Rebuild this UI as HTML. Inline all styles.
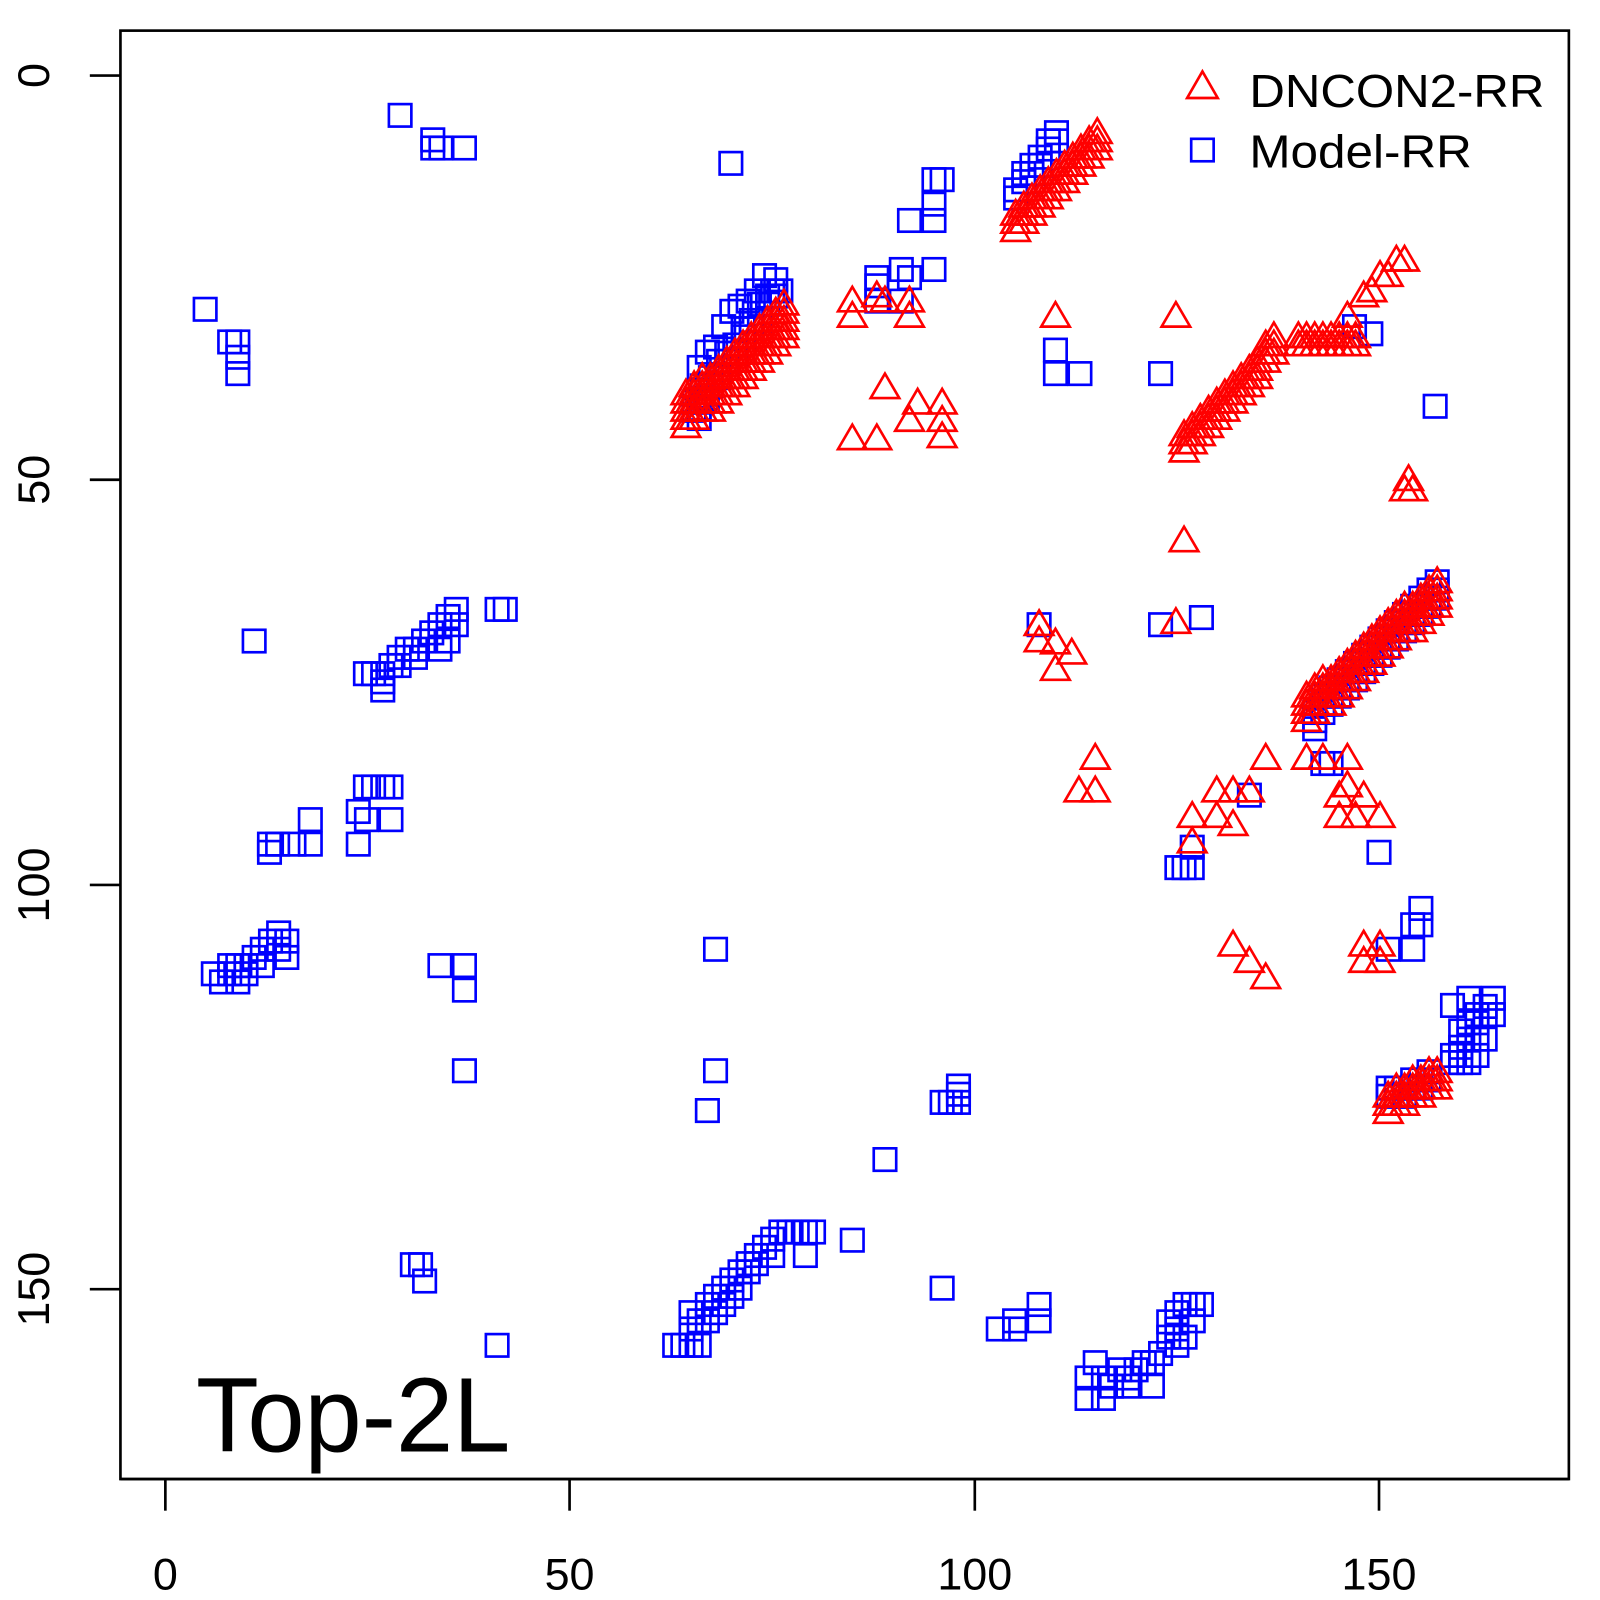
<!DOCTYPE html>
<html><head><meta charset="utf-8"><style>
html,body{margin:0;padding:0;background:#fff}
svg{display:block}
text{font-family:"Liberation Sans",Arial,sans-serif;fill:#000}
</style></head><body>
<svg id="s" width="1600" height="1600" viewBox="0 0 1567.5 1567.5" xmlns="http://www.w3.org/2000/svg">
<rect x="0" y="0" width="1567.5" height="1567.5" fill="#fff"/>
<g id="blue" fill="none" stroke="#0000ff" stroke-width="2.6"></g>
<g id="red" fill="none" stroke="#ff0000" stroke-width="2.6"></g>
<rect x="118" y="30" width="1419" height="1419" fill="none" stroke="#000" stroke-width="2.6"/>
<g stroke="#000" stroke-width="2.6">
<line x1="118" y1="1449" x2="1537" y2="1449"/>
<line x1="162" y1="1449" x2="162" y2="1480"/><line x1="558" y1="1449" x2="558" y2="1480"/>
<line x1="955" y1="1449" x2="955" y2="1480"/><line x1="1351" y1="1449" x2="1351" y2="1480"/>
<line x1="118" y1="74" x2="88" y2="74"/><line x1="118" y1="470" x2="88" y2="470"/>
<line x1="118" y1="867" x2="88" y2="867"/><line x1="118" y1="1263" x2="88" y2="1263"/>
</g>
<g font-size="44" text-anchor="middle">
<text x="162" y="1557">0</text><text x="558" y="1557">50</text>
<text x="955" y="1557">100</text><text x="1351" y="1557">150</text>
<text transform="translate(48,74) rotate(-90)">0</text>
<text transform="translate(48,470) rotate(-90)">50</text>
<text transform="translate(48,867) rotate(-90)">100</text>
<text transform="translate(48,1263) rotate(-90)">150</text>
</g>
<text x="192" y="1422" font-size="104" textLength="308" lengthAdjust="spacingAndGlyphs">Top-2L</text>
<polygon points="1178,70 1163,96 1193,96" fill="none" stroke="#ff0000" stroke-width="2.6"/>
<rect x="1167" y="136" width="22" height="22" fill="none" stroke="#0000ff" stroke-width="2.6"/>
<text x="1224" y="105" font-size="45" textLength="289" lengthAdjust="spacingAndGlyphs">DNCON2-RR</text>
<text x="1224" y="164" font-size="45" textLength="218" lengthAdjust="spacingAndGlyphs">Model-RR</text>
</svg>
<script>
var B=[[392,113],[424,137],[424,145],[432,145],[455,145],[716,160],[201,303],[225,335],[233,335],[233,350],[233,366],[249,628],
[358,660],[366,660],[375,676],[375,660],[383,652],[391,644],[399,636],[407,636],[415,628],[423,620],[431,612],[439,604],[447,597],[447,612],[439,628],[431,636],[407,644],[391,652],[375,668],[487,597],[495,597],
[358,771],[366,771],[375,771],[383,771],[351,795],[359,803],[383,803],[351,827],[304,803],[304,827],[288,827],[264,827],[264,835],[272,827],
[209,954],[217,962],[225,954],[233,962],[233,946],[241,954],[249,938],[257,930],[265,922],[273,914],[281,922],[281,938],[257,946],[241,946],[225,946],[273,930],
[431,946],[455,946],[455,970],[455,1049],[701,930],[701,1049],[693,1088],[939,1064],[939,1072],[931,1080],[923,1080],[939,1080],[867,1136],
[412,1239],[416,1255],[404,1239],[487,1318],
[661,1318],[669,1318],[677,1318],[685,1318],[677,1302],[685,1294],[677,1286],[693,1294],[693,1278],[701,1270],[709,1262],[717,1254],[725,1246],[733,1238],[741,1230],[749,1222],[757,1214],[765,1207],[773,1207],[781,1207],[789,1207],[797,1207],[789,1230],[757,1230],[741,1238],[725,1262],[709,1278],[701,1286],[717,1270],[733,1246],
[835,1215],[923,1262],[978,1302],[994,1294],[994,1302],[1018,1278],[1018,1294],
[1073,1335],[1065,1350],[1065,1370],[1081,1350],[1081,1370],[1089,1358],[1097,1342],[1105,1350],[1105,1358],[1113,1342],[1121,1335],[1129,1335],[1129,1358],[1137,1326],
[1145,1295],[1153,1286],[1161,1278],[1169,1278],[1177,1278],[1153,1302],[1161,1310],[1169,1294],[1145,1310],[1153,1318],
[891,216],[915,176],[923,176],[915,200],[915,216],[859,272],[859,280],[859,295],[883,264],[891,272],[915,264],[883,295],
[1034,343],[1034,366],[1058,366],[1137,366],
[685,360],[693,345],[701,340],[709,320],[717,305],[725,300],[733,295],[741,285],[749,270],[757,285],[765,285],[685,400],[685,410],[693,390],
[1018,612],[1137,612],[1177,605],[1304,748],[1296,748],[1224,779],[1168,830],[1153,850],[1160,850],[1168,850],[1351,835],
[1327,320],[1343,327],[1406,398],[1360,930],[1384,930],[1384,906],[1392,890],[1392,906],
[1423,1034],[1431,1026],[1439,1018],[1447,1002],[1455,994],[1463,978],[1463,994],[1447,1018],[1439,1041],[1431,1041],[1423,985],[1439,978],[1455,1018],[1447,994],[1431,1010],[1423,1041],[1447,1034],[1439,1002],[1455,986],[1431,1034]];
var R=[[835,295],[835,310],[867,295],[859,290],[891,295],[891,310],[867,380],[835,430],[859,430],[899,395],[891,412],[923,395],[923,412],[923,428],
[1034,310],[1152,310],[1320,310],[1336,290],[1352,270],[1368,255],[1376,255],[1344,285],[1360,270],
[1376,480],[1384,480],[1380,470],[1160,530],[1152,610],[1018,612],[1018,628],[1034,630],[1050,640],[1034,656],
[1073,743],[1057,775],[1073,775],[1280,743],[1296,743],[1320,743],[1240,743],[1320,770],[1336,780],[1312,800],[1328,800],[1352,800],[1312,780],
[1192,775],[1208,775],[1224,775],[1168,800],[1192,800],[1208,808],[1168,825],[1208,926],[1224,942],[1240,958],[1336,926],[1352,926],[1336,942],[1352,942]];
for(var x=1272;x<=1328;x+=8){R.push([x,330]);R.push([x,338]);}
function diag(arr,x1,y1,x2,y2,offs){for(var x=x1;x<=x2;x+=8){var y=y1+(y2-y1)*(x-x1)/(x2-x1);for(var i=0;i<offs.length;i++)arr.push([x,Math.round((y+offs[i])/8)*8+2]);}}
diag(B,680,400,760,285,[0,-10]);diag(B,995,190,1042,125,[0,-8]);diag(B,1288,700,1408,575,[0,-8,8]);diag(B,1360,1075,1400,1058,[0,-8]);
diag(R,672,395,772,300,[-8,0,8,16,24]);diag(R,995,218,1080,130,[-8,0,8]);diag(R,1160,432,1252,335,[-8,0,8]);
diag(R,1280,690,1408,575,[-8,0,8,16]);diag(R,1360,1078,1408,1052,[-8,0,8]);
var ns="http://www.w3.org/2000/svg",gb=document.getElementById('blue'),gr=document.getElementById('red');
B.forEach(function(p){var r=document.createElementNS(ns,'rect');r.setAttribute('x',p[0]-11);r.setAttribute('y',p[1]-11);r.setAttribute('width',22);r.setAttribute('height',22);gb.appendChild(r);});
R.forEach(function(p){var t=document.createElementNS(ns,'polygon');t.setAttribute('points',(p[0])+','+(p[1]-14)+' '+(p[0]-14)+','+(p[1]+10)+' '+(p[0]+14)+','+(p[1]+10));gr.appendChild(t);});
</script>
</body></html>
